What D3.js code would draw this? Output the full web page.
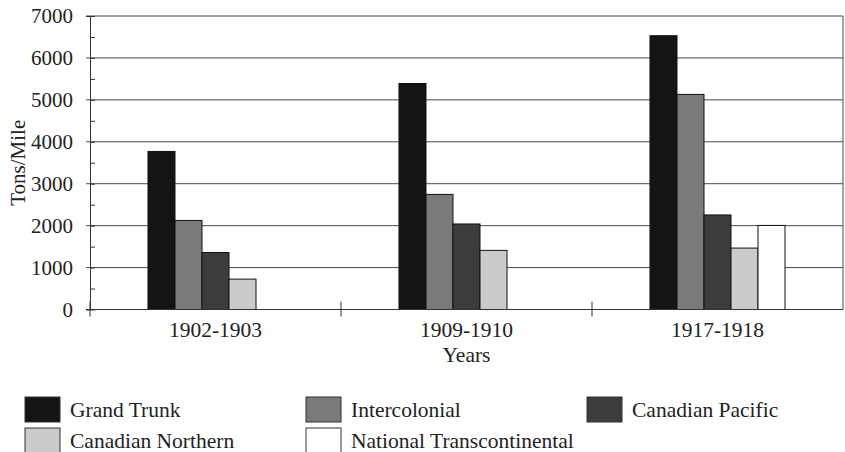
<!DOCTYPE html>
<html>
<head>
<meta charset="utf-8">
<script src="https://cdn.jsdelivr.net/npm/d3@7"></script>
<style>
  body { margin: 0; background: #fff; }
  svg text { font-family: "Liberation Serif", "Times New Roman", serif; fill: #222; }
</style>
</head>
<body>
<svg id="chart" width="845" height="452"></svg>
<script>
// data
var years = ["1902-1903", "1909-1910", "1917-1918"];
var railways = ["Grand Trunk", "Intercolonial", "Canadian Pacific", "Canadian Northern", "National Transcontinental"];
var grandTrunk = [3770, 5390, 6530];
var intercolonial = [2125, 2745, 5130];
var canadianPacific = [1360, 2040, 2255];
var canadianNorthern = [725, 1410, 1465];
var nationalTranscontinental = [0, 0, 2005];
var yTicks = [0, 1000, 2000, 3000, 4000, 5000, 6000, 7000];
var yMinor = [500, 1500, 2500, 3500, 4500, 5500, 6500];

var series = [grandTrunk, intercolonial, canadianPacific, canadianNorthern, nationalTranscontinental];
var fills = ["#141414", "#7a7a7a", "#3c3c3c", "#cbcbcb", "#ffffff"];

var svg = d3.select("#chart");
var pL = 90, pR = 843, pT = 16, pB = 309.5;

var x0 = d3.scaleBand().domain(years).range([pL, pR])
    .paddingInner(0.462).paddingOuter(0.231);
var x1 = d3.scaleBand().domain(railways).range([0, x0.bandwidth()]);
var y = d3.scaleLinear().domain([0, 7000]).range([pB, pT]);

// gridlines
svg.append("g").selectAll("line")
    .data(yTicks.slice(1))
    .enter().append("line")
    .attr("x1", pL - 4).attr("x2", pR)
    .attr("y1", function(d) { return y(d); })
    .attr("y2", function(d) { return y(d); })
    .style("stroke", "#4a4a4a").style("stroke-width", 1);

// right border
svg.append("line")
    .attr("x1", pR).attr("x2", pR).attr("y1", pT).attr("y2", pB)
    .style("stroke", "#4a4a4a");

// bars
var groups = svg.append("g").selectAll("g")
    .data(years)
    .enter().append("g")
    .attr("transform", function(d) { return "translate(" + x0(d) + ",0)"; });

groups.selectAll("rect")
    .data(function(d, i) {
        return railways.map(function(r, j) { return { name: r, value: series[j][i], k: j }; })
            .filter(function(o) { return o.value > 0; });
    })
    .enter().append("rect")
    .attr("x", function(d) { return x1(d.name); })
    .attr("width", x1.bandwidth())
    .attr("y", function(d) { return y(d.value); })
    .attr("height", function(d) { return pB - y(d.value); })
    .style("fill", function(d) { return fills[d.k]; })
    .style("stroke", "#111")
    .style("stroke-width", 1);

// y axis with labels
var yAxis = svg.append("g")
    .attr("transform", "translate(" + pL + ",0)")
    .call(d3.axisLeft(y).tickValues(yTicks).tickSize(4).tickPadding(13).tickFormat(d3.format("d")));
yAxis.select(".domain").style("stroke", "#333");
yAxis.selectAll(".tick line").attr("x2", 5).style("stroke", "#333");
yAxis.selectAll("text").style("font-size", "21px").style("font-family", "'Liberation Serif', serif").style("fill", "#222");

// minor ticks
svg.append("g")
    .attr("transform", "translate(" + pL + ",0)")
    .call(d3.axisLeft(y).tickValues(yMinor).tickSize(3).tickFormat(""))
    .call(function(g) {
        g.select(".domain").remove();
        g.selectAll(".tick line").attr("x2", 5).style("stroke", "#333");
    });

// x axis line, group dividers
svg.append("line")
    .attr("x1", pL - 4).attr("x2", pR).attr("y1", pB).attr("y2", pB)
    .style("stroke", "#333");

svg.append("g").selectAll("line")
    .data(years)
    .enter().append("line")
    .attr("x1", function(d) { return x0(d) - x0.step() * 0.231; })
    .attr("x2", function(d) { return x0(d) - x0.step() * 0.231; })
    .attr("y1", pB - 8).attr("y2", pB + 7)
    .style("stroke", "#333");

// category labels
svg.append("g").selectAll("text")
    .data(years)
    .enter().append("text")
    .attr("x", function(d) { return x0(d) + x0.bandwidth() / 2; })
    .attr("y", 337)
    .attr("text-anchor", "middle")
    .style("font-size", "21.5px")
    .text(function(d) { return d; });

// axis titles
svg.append("text")
    .attr("x", (pL + pR) / 2).attr("y", 362)
    .attr("text-anchor", "middle")
    .style("font-size", "21.5px")
    .text("Years");

svg.append("text")
    .attr("transform", "translate(25," + (pT + pB) / 2 + ") rotate(-90)")
    .attr("text-anchor", "middle")
    .style("font-size", "21px")
    .text("Tons/Mile");

// legend - 3 columns, 2 rows
var legend = svg.append("g").selectAll("g")
    .data(railways)
    .enter().append("g")
    .attr("transform", function(d, i) {
        return "translate(" + (25 + (i % 3) * 281) + "," + (397 + Math.floor(i / 3) * 31) + ")";
    });

legend.append("rect")
    .attr("width", 35).attr("height", 25)
    .style("fill", function(d, i) { return fills[i]; })
    .style("stroke", "#333");

legend.append("text")
    .attr("x", 45).attr("y", 20)
    .style("font-size", "21.5px")
    .text(function(d) { return d; });
</script>
</body>
</html>
